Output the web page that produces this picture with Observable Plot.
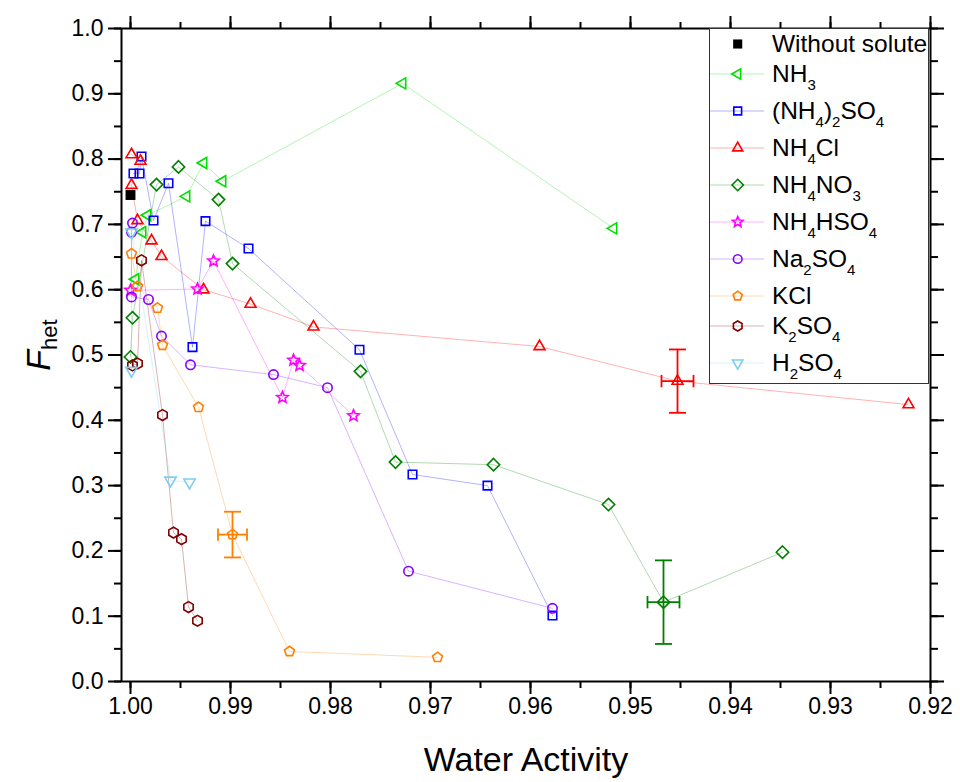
<!DOCTYPE html>
<html><head><meta charset="utf-8">
<script src="https://cdn.jsdelivr.net/npm/d3@7"></script>
<script src="https://cdn.jsdelivr.net/npm/@observablehq/plot@0.6"></script>
<style>
body{margin:0;background:#fff;}
#wrap{position:relative;width:960px;height:782px;font-family:"Liberation Sans",Arial,sans-serif;overflow:hidden;}
#legend{position:absolute;left:709px;top:28px;width:220px;height:356px;border:1px solid #333;background:#fff;box-sizing:border-box;}
.row{position:relative;height:30px;}
.row.tall{height:37px;}
.row svg{position:absolute;left:-1px;top:0;}
.row .lab{position:absolute;left:62px;top:0;line-height:30px;font-size:24.5px;white-space:nowrap;color:#000;}
.lab sub{font-size:15px;vertical-align:baseline;position:relative;top:8px;}
</style></head><body><div id="wrap"></div>
<script>
// ---------- data ----------
const seriesNames = ["Without solute","NH3","(NH4)2SO4","NH4Cl","NH4NO3","NH4HSO4","Na2SO4","KCl","K2SO4","H2SO4"];
const legendLabels = ["Without solute","NH<sub>3</sub>","(NH<sub>4</sub>)<sub>2</sub>SO<sub>4</sub>","NH<sub>4</sub>Cl","NH<sub>4</sub>NO<sub>3</sub>","NH<sub>4</sub>HSO<sub>4</sub>","Na<sub>2</sub>SO<sub>4</sub>","KCl","K<sub>2</sub>SO<sub>4</sub>","H<sub>2</sub>SO<sub>4</sub>"];

const awWithout = [1.0000];
const fWithout  = [0.745];
const awNH3 = [0.9995, 0.9988, 0.9983, 0.9944, 0.9927, 0.9908, 0.9728, 0.9517];
const fNH3  = [0.616, 0.688, 0.714, 0.743, 0.794, 0.766, 0.916, 0.694];
const awAS  = [0.9997, 0.9991, 0.9989, 0.9977, 0.9962, 0.9938, 0.9925, 0.9882, 0.9771, 0.9718, 0.9643, 0.9578];
const fAS   = [0.778, 0.778, 0.804, 0.706, 0.763, 0.512, 0.705, 0.663, 0.508, 0.317, 0.300, 0.101];
const awNH4Cl = [0.9999, 0.9990, 0.9999, 0.9993, 0.9979, 0.9969, 0.9927, 0.9880, 0.9817, 0.9591, 0.9453, 0.9222];
const fNH4Cl  = [0.807, 0.797, 0.760, 0.706, 0.675, 0.651, 0.600, 0.578, 0.543, 0.513, 0.460, 0.424];
const awNH4NO3 = [1.0000, 0.9998, 0.9974, 0.9952, 0.9912, 0.9898, 0.9770, 0.9735, 0.9637, 0.9522, 0.9467, 0.9348];
const fNH4NO3  = [0.497, 0.557, 0.761, 0.788, 0.738, 0.640, 0.475, 0.336, 0.332, 0.271, 0.1215, 0.198];
const awNH4HSO4 = [1.0000, 0.9933, 0.9917, 0.9848, 0.9837, 0.9831, 0.9777];
const fNH4HSO4  = [0.599, 0.601, 0.644, 0.435, 0.492, 0.484, 0.407];
const awNa2SO4 = [0.9998, 0.9999, 0.9999, 0.9982, 0.9969, 0.9940, 0.9857, 0.9803, 0.9722, 0.9578];
const fNa2SO4  = [0.702, 0.688, 0.589, 0.585, 0.529, 0.485, 0.470, 0.450, 0.169, 0.112];
const awKCl = [0.9999, 0.9993, 0.9973, 0.9968, 0.9932, 0.9898, 0.9841, 0.9693];
const fKCl  = [0.655, 0.605, 0.572, 0.515, 0.420, 0.225, 0.046, 0.037];
const awK2SO4 = [0.9998, 0.9993, 0.9989, 0.9968, 0.9957, 0.9949, 0.9942, 0.9933];
const fK2SO4  = [0.484, 0.487, 0.645, 0.408, 0.228, 0.218, 0.114, 0.093];
const awH2SO4 = [0.9999, 0.9999, 0.9960, 0.9941];
const fH2SO4  = [0.476, 0.688, 0.308, 0.305];

const errSeries = ["NH4Cl","NH4NO3","KCl"];
const errAw     = [0.9453, 0.9467, 0.9898];
const errF      = [0.460, 0.1215, 0.225];
const errAwErr  = [0.0016, 0.0016, 0.00145];
const errFErr   = [0.0485, 0.064, 0.035];

const xTickValues = [1.00, 0.99, 0.98, 0.97, 0.96, 0.95, 0.94, 0.93, 0.92];
const yTickValues = [0, 0.1, 0.2, 0.3, 0.4, 0.5, 0.6, 0.7, 0.8, 0.9, 1.0];

const awSeries = [awWithout, awNH3, awAS, awNH4Cl, awNH4NO3, awNH4HSO4, awNa2SO4, awKCl, awK2SO4, awH2SO4];
const fSeries  = [fWithout, fNH3, fAS, fNH4Cl, fNH4NO3, fNH4HSO4, fNa2SO4, fKCl, fK2SO4, fH2SO4];

// ---------- styles ----------
const seriesColors = ["#000000","#00dd00","#0000ff","#ff0000","#008000","#ff00ff","#8000ff","#ff8000","#800000","#7fcdf0"];
function poly(n, a0) {
  return {draw(ctx, size) {
    const R = Math.sqrt(size / Math.PI);
    for (let i = 0; i < n; i++) {
      const a = a0 + i * 2 * Math.PI / n;
      const x = R * Math.cos(a), y = R * Math.sin(a);
      if (i) ctx.lineTo(x, y); else ctx.moveTo(x, y);
    }
    ctx.closePath();
  }};
}
const starSym = {draw(ctx, size) {
  const R = Math.sqrt(size / Math.PI), r2 = R * 0.45;
  for (let i = 0; i < 10; i++) {
    const a = -Math.PI / 2 + i * Math.PI / 5, rr = i % 2 ? r2 : R;
    const x = rr * Math.cos(a), y = rr * Math.sin(a);
    if (i) ctx.lineTo(x, y); else ctx.moveTo(x, y);
  }
  ctx.closePath();
}};
const circleSym = {draw(ctx, size) { const R = Math.sqrt(size / Math.PI); ctx.moveTo(R, 0); ctx.arc(0, 0, R, 0, 2 * Math.PI); }};
const hCap = {draw(ctx, size) { const R = Math.sqrt(size / Math.PI); ctx.moveTo(-R, 0); ctx.lineTo(R, 0); }};
const vCap = {draw(ctx, size) { const R = Math.sqrt(size / Math.PI); ctx.moveTo(0, -R); ctx.lineTo(0, R); }};
const D = Math.PI / 180;
const seriesSymbols = [poly(4, 45 * D), poly(3, 180 * D), poly(4, 45 * D), poly(3, -90 * D), poly(4, -90 * D), starSym, circleSym, poly(5, -90 * D), poly(6, -90 * D), poly(3, 90 * D)];
const seriesRadius  = [7, 6.4, 6.0, 6.3, 6.2, 6.0, 4.7, 5.2, 5.4, 6.6];

// ---------- table ----------
const rows = seriesNames.flatMap((s, i) => awSeries[i].map((a, j) => ({series: s, aw: a, f: fSeries[i][j]})));
const errRows = errSeries.map((s, i) => ({series: s, aw: errAw[i], f: errF[i], ae: errAwErr[i], fe: errFErr[i]}));

const xMinor = d3.range(0, 17).map(i => +(1.0 - i * 0.005).toFixed(3));
const yMinor = d3.range(0, 21).map(i => +(i * 0.05).toFixed(2));

const marks = [];
seriesNames.forEach((s, i) => {
  if (i === 0) return;
  marks.push(Plot.line(rows.filter(d => d.series === s), {x: "aw", y: "f", stroke: "series", strokeOpacity: 0.3, strokeWidth: 1}));
});
marks.push(Plot.ruleX(errRows, {x: "aw", y1: d => d.f - d.fe, y2: d => d.f + d.fe, stroke: "series", strokeWidth: 1.8}));
marks.push(Plot.ruleY(errRows, {y: "f", x1: d => d.aw - d.ae, x2: d => d.aw + d.ae, stroke: "series", strokeWidth: 1.8}));
marks.push(Plot.dot(errRows, {x: "aw", y: d => d.f + d.fe, symbol: hCap, r: 8.5, stroke: "series", strokeWidth: 1.8}));
marks.push(Plot.dot(errRows, {x: "aw", y: d => d.f - d.fe, symbol: hCap, r: 8.5, stroke: "series", strokeWidth: 1.8}));
marks.push(Plot.dot(errRows, {x: d => d.aw + d.ae, y: "f", symbol: vCap, r: 6.2, stroke: "series", strokeWidth: 1.8}));
marks.push(Plot.dot(errRows, {x: d => d.aw - d.ae, y: "f", symbol: vCap, r: 6.2, stroke: "series", strokeWidth: 1.8}));
seriesNames.forEach((s, i) => {
  const data = rows.filter(d => d.series === s);
  if (i === 0) marks.push(Plot.dot(data, {x: "aw", y: "f", symbol: seriesSymbols[i], r: seriesRadius[i], fill: "series", stroke: "none"}));
  else marks.push(Plot.dot(data, {x: "aw", y: "f", symbol: seriesSymbols[i], r: seriesRadius[i], fill: "none", stroke: "series", strokeWidth: 1.6}));
});
marks.push(Plot.frame({stroke: "black", strokeWidth: 2}));
const blank = () => "";
marks.push(
  Plot.axisX({anchor: "bottom", ticks: xTickValues, tickSize: 13, tickPadding: 3, tickFormat: d3.format(".2f"), fontSize: 23, strokeWidth: 2, label: null}),
  Plot.axisX({anchor: "bottom", ticks: xMinor, tickSize: 7, tickFormat: blank, strokeWidth: 2, label: null}),
  Plot.axisX({anchor: "top", ticks: xTickValues, tickSize: 13, tickFormat: blank, strokeWidth: 2, label: null}),
  Plot.axisX({anchor: "top", ticks: xMinor, tickSize: 7, tickFormat: blank, strokeWidth: 2, label: null}),
  Plot.axisY({anchor: "left", ticks: yTickValues, tickSize: 13, tickPadding: 5, tickFormat: d3.format(".1f"), fontSize: 23, strokeWidth: 2, label: null}),
  Plot.axisY({anchor: "left", ticks: yMinor, tickSize: 7, tickFormat: blank, strokeWidth: 2, label: null}),
  Plot.axisY({anchor: "right", ticks: yTickValues, tickSize: 13, tickFormat: blank, strokeWidth: 2, label: null}),
  Plot.axisY({anchor: "right", ticks: yMinor, tickSize: 7, tickFormat: blank, strokeWidth: 2, label: null})
);

const plot = Plot.plot({
  width: 960, height: 782,
  marginLeft: 121, marginRight: 30, marginTop: 28, marginBottom: 101,
  x: {type: "linear", domain: [1.0009, 0.92]},
  y: {type: "linear", domain: [0, 1]},
  color: {domain: seriesNames, range: seriesColors},
  style: {fontFamily: "'Liberation Sans', Arial, sans-serif", fontSize: "23px", background: "white", color: "black", overflow: "visible"},
  marks
});
const wrap = document.getElementById("wrap");
wrap.appendChild(plot);

// axis titles
const svg = d3.select(plot);
svg.append("text").attr("x", 526).attr("y", 771).attr("text-anchor", "middle")
  .attr("font-size", 34).attr("fill", "black").text("Water Activity");
const yl = svg.append("text").attr("transform", "translate(50,345) rotate(-90)").attr("text-anchor", "middle")
  .attr("font-size", 34).attr("fill", "black");
yl.append("tspan").attr("font-style", "italic").text("F");
yl.append("tspan").attr("font-size", 22).attr("dy", 7).text("het");

// legend
const legend = document.createElement("div");
legend.id = "legend";
seriesNames.forEach((s, i) => {
  const row = document.createElement("div");
  row.className = "row" + (legendLabels[i].includes("<sub>") ? " tall" : "");
  const ns = "http://www.w3.org/2000/svg";
  const sv = document.createElementNS(ns, "svg");
  sv.setAttribute("width", 60); sv.setAttribute("height", 30);
  if (i > 0) {
    const ln = document.createElementNS(ns, "line");
    ln.setAttribute("x1", 1); ln.setAttribute("x2", 55); ln.setAttribute("y1", 15); ln.setAttribute("y2", 15);
    ln.setAttribute("stroke", seriesColors[i]); ln.setAttribute("stroke-opacity", 0.3); ln.setAttribute("stroke-width", 1);
    sv.appendChild(ln);
  }
  const p = document.createElementNS(ns, "path");
  const r = seriesRadius[i] * 0.92;
  p.setAttribute("d", d3.symbol(seriesSymbols[i], r * r * Math.PI)());
  p.setAttribute("transform", "translate(28.7,15)");
  if (i === 0) { p.setAttribute("fill", "black"); }
  else { p.setAttribute("fill", "none"); p.setAttribute("stroke", seriesColors[i]); p.setAttribute("stroke-width", 1.6); }
  sv.appendChild(p);
  row.appendChild(sv);
  const lab = document.createElement("div");
  lab.className = "lab";
  lab.innerHTML = legendLabels[i];
  row.appendChild(lab);
  legend.appendChild(row);
});
wrap.appendChild(legend);
</script></body></html>
